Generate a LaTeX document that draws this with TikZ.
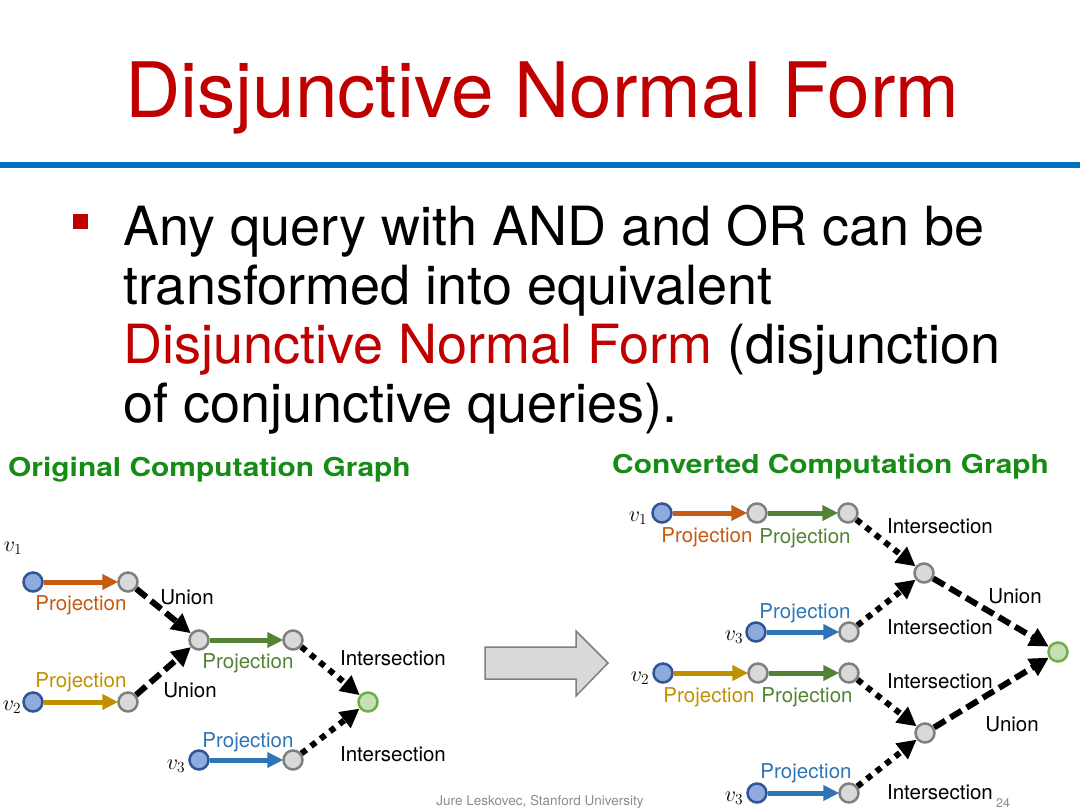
\RequirePackage{fix-cm}
\documentclass[tikz,border=0pt]{standalone}
\usepackage{fontspec}
\setmainfont{TeX Gyre Heros}
\usetikzlibrary{arrows.meta}
\definecolor{titlered}{HTML}{C00000}
\definecolor{ruleblue}{HTML}{0070C0}
\definecolor{hdgreen}{HTML}{168C16}
\definecolor{porange}{HTML}{C55A11}
\definecolor{pgreen}{HTML}{548235}
\definecolor{pyellow}{HTML}{BF9000}
\definecolor{pblue}{HTML}{2E75B6}
\definecolor{nblue}{HTML}{8FAADC}
\definecolor{nbluedraw}{HTML}{2F5597}
\definecolor{ngrey}{HTML}{D9D9D9}
\definecolor{ngreydraw}{HTML}{7F7F7F}
\definecolor{ngreen}{HTML}{C5E0B4}
\definecolor{ngreendraw}{HTML}{70AD47}
\definecolor{foot}{HTML}{8C8C8C}
\begin{document}
\begin{tikzpicture}[x=1pt,y=-1pt,
  vblue/.style={circle,draw=nbluedraw,fill=nblue,line width=2.5pt,minimum size=19pt,inner sep=0},
  vgrey/.style={circle,draw=ngreydraw,fill=ngrey,line width=2.5pt,minimum size=19pt,inner sep=0},
  vgreen/.style={circle,draw=ngreendraw,fill=ngreen,line width=2.5pt,minimum size=19pt,inner sep=0},
  proj/.style={line width=5pt,-{Triangle[length=16pt,width=15pt]},shorten >=-1pt},
  uni/.style={line width=6pt,black,dash pattern=on 13pt off 6pt,-{Triangle[length=19pt,width=19pt]}},
  inter/.style={line width=6pt,black,dash pattern=on 6pt off 6pt,-{Triangle[length=19pt,width=19pt]}},
  lbl/.style={font=\fontsize{20.5}{24}\selectfont,inner sep=0},
  vlbl/.style={font=\fontsize{22}{24}\selectfont,inner sep=0},
  body/.style={anchor=base west,inner sep=0,font=\fontsize{54}{60}\selectfont},
  hd/.style={text=hdgreen,inner sep=0,font=\fontsize{26}{28}\selectfont\bfseries}
]
\useasboundingbox (0,0) rectangle (1080,810);
% title
\node[anchor=base west,inner sep=0,text=titlered,font=\fontsize{76.5}{80}\selectfont] (title) at (125,118) {Disjunctive Normal Form};
\fill[ruleblue] (0,162) rectangle (1080,168);
% bullet text
\fill[titlered] (73,214) rectangle (88,229);
\node[body] (b1) at (123,246) {Any query with AND and OR can be};
\node[body] (b2) at (123,305) {transformed into equivalent};
\node[body] (b3) at (123,364) {\textcolor{titlered}{Disjunctive Normal Form} (disjunction};
\node[body] (b4) at (123,423) {of conjunctive queries).};
% headings
\node[hd,anchor=base west,xscale=1.15] (h1) at (8,476) {Original Computation Graph};
\node[hd,anchor=base west,xscale=1.15] (h2) at (612,474) {Converted Computation Graph};
% ---------------- left graph
\node[vblue] (L1) at (33,582) {};
\node[vgrey] (L2) at (128,582) {};
\node[vgrey] (L3) at (199,640) {};
\node[vgrey] (L4) at (293,640) {};
\node[vblue] (L5) at (33,702) {};
\node[vgrey] (L6) at (128,702) {};
\node[vgreen] (LF) at (368,702) {};
\node[vblue] (L7) at (199,760) {};
\node[vgrey] (L8) at (293,760) {};
\node[vlbl] (lv1) at (13,548) {$v_1$};
\node[vlbl] (lv2) at (12,707) {$v_2$};
\node[vlbl] (lv3) at (176,766) {$v_3$};
\draw[proj,porange] (L1) -- (L2);
\draw[proj,pgreen] (L3) -- (L4);
\draw[proj,pyellow] (L5) -- (L6);
\draw[proj,pblue] (L7) -- (L8);
\draw[uni] (L2) -- (L3);
\draw[uni] (L6) -- (L3);
\draw[inter] (L4) -- (LF);
\draw[inter] (L8) -- (LF);
\node[lbl,text=porange] (lp1) at (81,605) {Projection};
\node[lbl,text=pgreen] (lp2) at (248,663) {Projection};
\node[lbl,text=pyellow] (lp3) at (81,682) {Projection};
\node[lbl,text=pblue] (lp4) at (248,742) {Projection};
\node[lbl] (lu1) at (187,597) {Union};
\node[lbl] (lu2) at (190,690) {Union};
\node[lbl] (li1) at (393,658) {Intersection};
\node[lbl] (li2) at (393,754) {Intersection};
% big arrow
\draw[ngreydraw,fill=ngrey,line width=1.5pt,line join=miter]
  (485,647) -- (576,647) -- (576,631) -- (608,663) -- (576,696) -- (576,679) -- (485,679) -- cycle;
% ---------------- right graph
\node[vblue] (R1) at (662,513) {};
\node[vgrey] (R2) at (757,513) {};
\node[vgrey] (R3) at (848,513) {};
\node[vgrey] (RI1) at (924,573) {};
\node[vblue] (RB1) at (756,632) {};
\node[vgrey] (RB2) at (849,632) {};
\node[vgreen] (RF) at (1058,652) {};
\node[vblue] (RC1) at (663,673) {};
\node[vgrey] (RC2) at (758,673) {};
\node[vgrey] (RC3) at (849,673) {};
\node[vgrey] (RI2) at (925,733) {};
\node[vblue] (RD1) at (757,793) {};
\node[vgrey] (RD2) at (849,793) {};
\node[vlbl] (rv1) at (638,518) {$v_1$};
\node[vlbl] (rv3a) at (734,637) {$v_3$};
\node[vlbl] (rv2) at (640,678) {$v_2$};
\node[vlbl] (rv3b) at (734,798) {$v_3$};
\draw[proj,porange] (R1) -- (R2);
\draw[proj,pgreen] (R2) -- (R3);
\draw[proj,pblue] (RB1) -- (RB2);
\draw[proj,pyellow] (RC1) -- (RC2);
\draw[proj,pgreen] (RC2) -- (RC3);
\draw[proj,pblue] (RD1) -- (RD2);
\draw[inter] (R3) -- (RI1);
\draw[inter] (RB2) -- (RI1);
\draw[inter] (RC3) -- (RI2);
\draw[inter] (RD2) -- (RI2);
\draw[uni] (RI1) -- (RF);
\draw[uni] (RI2) -- (RF);
\node[lbl,text=porange] (rp1) at (707,537) {Projection};
\node[lbl,text=pgreen] (rp2) at (805,538) {Projection};
\node[lbl,text=pblue] (rp3) at (805,613) {Projection};
\node[lbl,text=pyellow] (rp4) at (709,697) {Projection};
\node[lbl,text=pgreen] (rp5) at (807,697) {Projection};
\node[lbl,text=pblue] (rp6) at (806,773) {Projection};
\node[lbl] (ri1) at (940,526) {Intersection};
\node[lbl] (ri2) at (940,627) {Intersection};
\node[lbl] (ri3) at (940,681) {Intersection};
\node[lbl] (ri4) at (940,792) {Intersection};
\node[lbl] (ru1) at (1015,596) {Union};
\node[lbl] (ru2) at (1012,724) {Union};
% footer
\node[text=foot,inner sep=0,font=\fontsize{13.5}{15}\selectfont] (foot) at (540,802) {Jure Leskovec, Stanford University};
\node[text=foot,inner sep=0,font=\fontsize{12.5}{14}\selectfont] (pg) at (1003,803) {24};
\end{tikzpicture}
\end{document}
